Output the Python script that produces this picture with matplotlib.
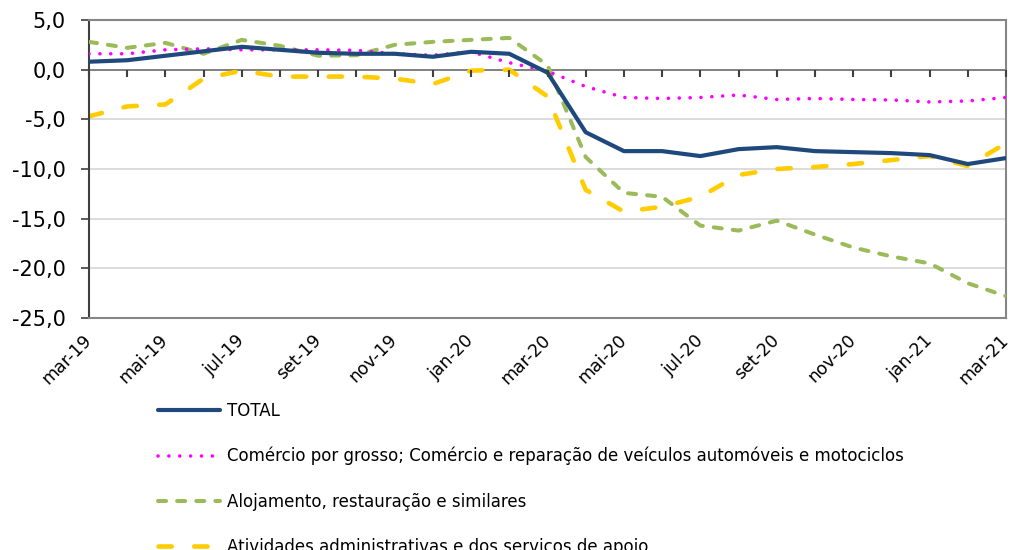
import matplotlib
matplotlib.use('Agg')
import matplotlib.pyplot as plt
from matplotlib.ticker import FuncFormatter
from matplotlib.markers import TICKDOWN
import numpy as np

months = ['mar-19', 'abr-19', 'mai-19', 'jun-19', 'jul-19', 'ago-19', 'set-19', 'out-19',
          'nov-19', 'dez-19', 'jan-20', 'fev-20', 'mar-20', 'abr-20', 'mai-20', 'jun-20',
          'jul-20', 'ago-20', 'set-20', 'out-20', 'nov-20', 'dez-20', 'jan-21', 'fev-21', 'mar-21']

total = [0.8, 0.95, 1.4, 1.85, 2.3, 2.0, 1.7, 1.6, 1.6, 1.3, 1.8, 1.6, -0.3, -6.3, -8.2, -8.2,
         -8.7, -8.0, -7.8, -8.2, -8.3, -8.4, -8.6, -9.5, -8.9]
comercio = [1.6, 1.6, 2.0, 2.1, 2.0, 2.0, 2.0, 1.95, 1.6, 1.45, 1.8, 0.7, -0.15, -1.7, -2.8, -2.9,
            -2.8, -2.55, -3.0, -2.9, -3.0, -3.05, -3.25, -3.15, -2.8]
alojamento = [2.8, 2.2, 2.7, 1.6, 3.0, 2.4, 1.4, 1.45, 2.5, 2.8, 3.0, 3.2, 0.45, -8.8, -12.4, -12.8,
              -15.7, -16.2, -15.2, -16.6, -17.9, -18.8, -19.5, -21.5, -22.8]
atividades = [-4.7, -3.7, -3.5, -0.9, -0.1, -0.7, -0.7, -0.7, -0.9, -1.45, -0.1, 0.0, -2.7, -12.1,
              -14.3, -13.8, -12.8, -10.6, -10.0, -9.8, -9.5, -9.1, -8.7, -9.7, -7.4]

labels = ['TOTAL',
          'Comércio por grosso; Comércio e reparação de veículos automóveis e motociclos',
          'Alojamento, restauração e similares',
          'Atividades administrativas e dos servicos de apoio']

yticks = [5, 0, -5, -10, -15, -20, -25]

plt.rcParams['font.family'] = ['DejaVu Sans']

W, H = 1013, 550
fig = plt.figure(figsize=(W / 100, H / 100), dpi=100)
ax = fig.add_axes([89 / W, 1 - 318 / H, 917 / W, 298 / H])

x = np.arange(len(months))

l1, = ax.plot(x, total, color='#1F497D', lw=3.0, solid_capstyle='round', zorder=5)
l2, = ax.plot(x, comercio, color='#FF00FF', lw=2.6, linestyle=(0, (0.01, 3.0)),
              dash_capstyle='round', zorder=4)
l3, = ax.plot(x, alojamento, color='#9BBB59', lw=2.9, linestyle=(0, (2.0, 2.75)),
              dash_capstyle='round', zorder=3)
l4, = ax.plot(x, atividades, color='#FFCC00', lw=3.3, linestyle=(0, (2.9, 4.9)),
              dash_capstyle='round', zorder=2)

ax.set_xlim(0, len(months) - 1)
ax.set_ylim(-25, 5)
ax.set_yticks(yticks)
ax.yaxis.set_major_formatter(FuncFormatter(lambda v, p: f'{v:.1f}'.replace('.', ',')))
ax.tick_params(axis='y', direction='out', length=5.5, width=1.2, color='#404040',
               labelsize=15, pad=11.5)
for yv in yticks[2:-1]:
    ax.axhline(yv, color='#D9D9D9', lw=1.3, zorder=1)

ax.set_xticks(x[::2])
ax.set_xticklabels(months[::2], rotation=45, ha='right', va='center',
                   rotation_mode='anchor', fontsize=12.5)
ax.tick_params(axis='x', length=0, pad=14)

for s in ['top', 'right', 'bottom']:
    ax.spines[s].set_color('#868686')
    ax.spines[s].set_linewidth(1.5)
ax.spines['left'].set_color('#404040')
ax.spines['left'].set_linewidth(1.5)

# category axis line at y = 0 with monthly tick marks
ax.axhline(0, color='#808080', lw=1.4, zorder=1.5)
ax.plot(x, np.zeros(len(x)), linestyle='none', marker=TICKDOWN, markersize=5,
        markeredgewidth=1.5, markeredgecolor='#404040', zorder=6, clip_on=False)

fs_leg = 12
hl_px = 62
fig.legend([l1, l2, l3, l4], labels, loc='upper left', bbox_to_anchor=(158 / W, 1 - 401.5 / H),
           frameon=False, fontsize=fs_leg, borderpad=0, borderaxespad=0,
           handlelength=hl_px / (fs_leg * 100 / 72), handletextpad=0.4, labelspacing=1.64)

fig.savefig('out.png', dpi=100, facecolor='white')
